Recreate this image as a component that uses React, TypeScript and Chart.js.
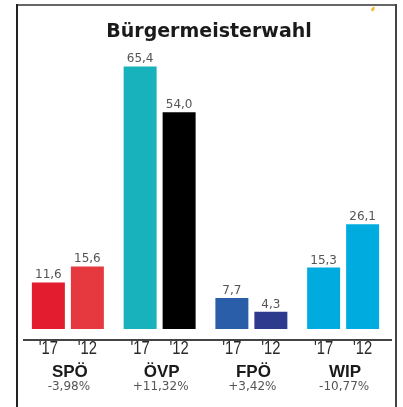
import React, { useEffect, useRef } from "react";
import { Chart, registerables } from "chart.js";

Chart.register(...registerables);

const title = "Bürgermeisterwahl";
const parties = ["SPÖ", "ÖVP", "FPÖ", "WIP"];
const changes = ["-3,98%", "+11,32%", "+3,42%", "-10,77%"];
const years = ["'17", "'12"];
const values17 = [11.6, 65.4, 7.7, 15.3];
const values12 = [15.6, 54.0, 4.3, 26.1];
const colors17 = ["#e31d2f", "#17b2bb", "#2a5ea8", "#00acdf"];
const colors12 = ["#e6393f", "#000000", "#2e3a8e", "#00acdf"];

const fmt = (v: number) => v.toFixed(1).replace(".", ",");

const overlay = {
  id: "overlay",
  beforeDraw(chart: any) {
    const ctx = chart.ctx;
    ctx.save();
    ctx.fillStyle = "#ffffff";
    ctx.fillRect(0, 0, chart.width, chart.height);
    // frame
    ctx.fillStyle = "#666666";
    ctx.fillRect(16, 4, 381, 2);
    ctx.fillStyle = "#222222";
    ctx.fillRect(16, 4, 2, chart.height);
    ctx.fillStyle = "#444444";
    ctx.fillRect(395, 4, 2, chart.height);
    // small orange mark
    ctx.fillStyle = "#f5b830";
    ctx.beginPath();
    ctx.ellipse(373, 9, 1.5, 2.5, 0.5, 0, Math.PI * 2);
    ctx.fill();
    ctx.restore();
  },
  afterDraw(chart: any) {
    const ctx = chart.ctx;
    const area = chart.chartArea;
    ctx.save();
    // title
    ctx.fillStyle = "#1a1a1a";
    ctx.font = "bold 19px 'DejaVu Sans'";
    ctx.textAlign = "center";
    ctx.textBaseline = "middle";
    ctx.fillText(title, 209, 32);
    // baseline
    ctx.fillStyle = "#444444";
    ctx.fillRect(23, area.bottom + 10, 369, 2);
    // value labels & year labels
    chart.data.datasets.forEach((ds: any, di: number) => {
      const meta = chart.getDatasetMeta(di);
      meta.data.forEach((bar: any, i: number) => {
        ctx.fillStyle = "#555555";
        ctx.font = "12px 'DejaVu Sans'";
        ctx.textBaseline = "alphabetic";
        ctx.fillText(fmt(ds.data[i]), bar.x, bar.y - 4);
        ctx.save();
        ctx.translate(bar.x, area.bottom + 20);
        ctx.scale(0.82, 1);
        ctx.fillStyle = "#2a2a2a";
        ctx.font = "18px 'Liberation Sans'";
        ctx.textBaseline = "middle";
        ctx.fillText(years[di], 0, 0);
        ctx.restore();
      });
    });
    // party names and changes
    const xScale = chart.scales.x;
    parties.forEach((p, i) => {
      const x = xScale.getPixelForValue(i);
      ctx.fillStyle = "#1a1a1a";
      ctx.font = "bold 17px 'Liberation Sans'";
      ctx.textBaseline = "middle";
      ctx.fillText(p, x + 2, area.bottom + 43);
      ctx.fillStyle = "#555555";
      ctx.font = "12px 'DejaVu Sans'";
      ctx.fillText(changes[i], x + 1, area.bottom + 58);
    });
    ctx.restore();
  },
};

export default function App() {
  const ref = useRef<HTMLCanvasElement>(null);
  useEffect(() => {
    if (!ref.current) return;
    const chart = new Chart(ref.current, {
      type: "bar",
      data: {
        labels: parties,
        datasets: [
          { label: years[0], data: values17, backgroundColor: colors17 },
          { label: years[1], data: values12, backgroundColor: colors12 },
        ],
      },
      options: {
        animation: false,
        responsive: false,
        events: [],
        layout: { padding: { left: 22, right: 14, top: 48, bottom: 78 } },
        datasets: { bar: { categoryPercentage: 0.85, barPercentage: 0.846 } },
        scales: {
          x: { display: false },
          y: { display: false, min: 0, max: 70 },
        },
        plugins: {
          legend: { display: false },
          tooltip: { enabled: false },
          title: { display: false },
        },
      },
      plugins: [overlay],
    });
    return () => chart.destroy();
  }, []);
  return (
    <div style={{ position: "fixed", left: 0, top: 0, width: 403, height: 407, background: "#fff" }}>
      <canvas ref={ref} width={403} height={407} style={{ display: "block" }} />
    </div>
  );
}
